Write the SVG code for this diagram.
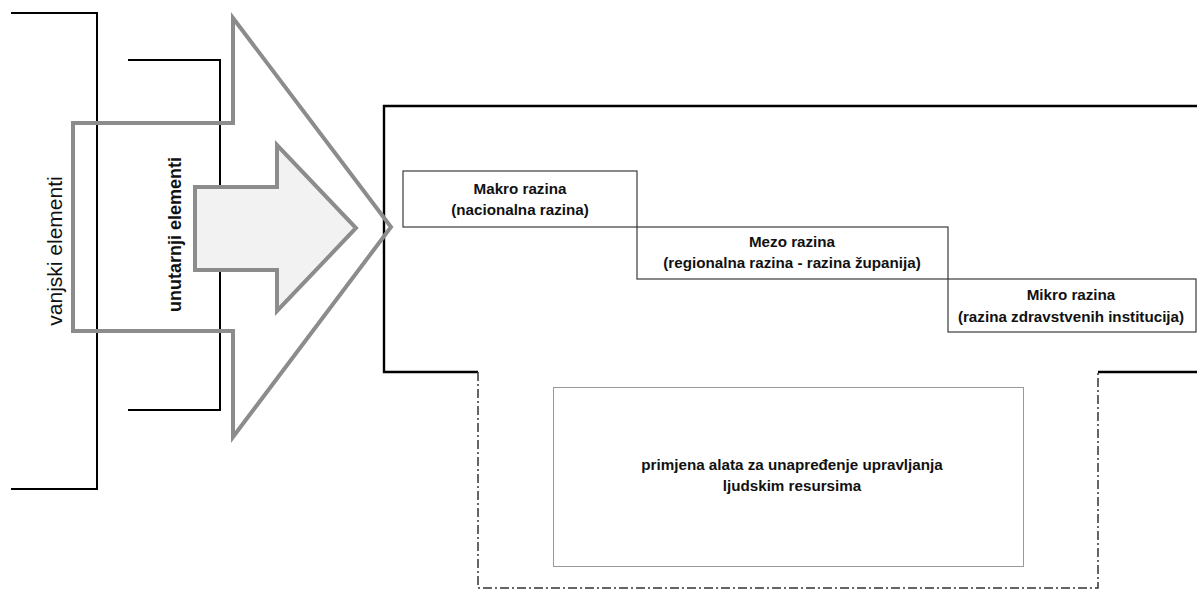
<svg xmlns="http://www.w3.org/2000/svg" width="1197" height="590" viewBox="0 0 1197 590">
<style>
.bk{fill:none;stroke:#000;stroke-width:2}
.cont{fill:none;stroke:#000;stroke-width:2.4}
.dd{fill:none;stroke:#333;stroke-width:1.5;stroke-dasharray:9 3 2 3}
.lvl{fill:#fff;stroke:#3a3a3a;stroke-width:1.2}
.dot{fill:#fff;stroke:#333;stroke-width:1;stroke-dasharray:1 1}
.arr{stroke:#8c8c8c;stroke-width:4;stroke-linejoin:miter;stroke-miterlimit:10}
.t{font-family:"Liberation Sans",Arial,sans-serif;fill:#111;text-anchor:middle}
.b{font-weight:bold;font-size:15.2px}
</style>
<rect width="1197" height="590" fill="#fff"/>
<g id="bracket-outer">
<polyline class="bk" points="11,13 97,13 97,489 11,489"/>
<text class="t" style="font-size:21px" transform="translate(62,251) rotate(-90)">vanjski elementi</text>
</g>
<g id="bracket-inner">
<polyline class="bk" points="128,60 220,60 220,410 128,410"/>
</g>
<g id="container">
<polyline class="cont" points="1197,106 384,106 384,372 478,372"/>
<polyline class="cont" points="1098,372 1197,372"/>
<polyline class="dd" points="478,372 478,588 1098,588 1098,372"/>
</g>
<g id="connectors">
<polygon class="arr" fill="none" points="73,123 233,123 233,18 391,227 233,437 233,331 73,331"/>
<polygon class="arr" fill="#f2f2f2" stroke-width="3.5" points="195,187 277,187 277,145 356,228 277,311 277,270 195,270"/>
</g>
<g id="label-inner">
<text class="t" style="font-size:18px;font-weight:bold" transform="translate(181,234.5) rotate(-90)">unutarnji elementi</text>
</g>
<g id="makro">
<rect class="lvl" x="403" y="171" width="234" height="56"/>
<text class="t b" x="520" y="194">Makro razina</text>
<text class="t b" x="520" y="215">(nacionalna razina)</text>
</g>
<g id="mezo">
<rect class="lvl" x="637" y="227" width="311" height="52"/>
<text class="t b" x="792" y="247">Mezo razina</text>
<text class="t b" x="792" y="268">(regionalna razina - razina županija)</text>
</g>
<g id="mikro">
<rect class="lvl" x="948" y="279" width="248" height="53"/>
<text class="t b" x="1071" y="300">Mikro razina</text>
<text class="t b" x="1071" y="322">(razina zdravstvenih institucija)</text>
</g>
<g id="tools">
<rect class="dot" x="553.5" y="387.5" width="470" height="179"/>
<text class="t b" x="792" y="470">primjena alata za unapređenje upravljanja</text>
<text class="t b" x="792" y="491">ljudskim resursima</text>
</g>
</svg>
